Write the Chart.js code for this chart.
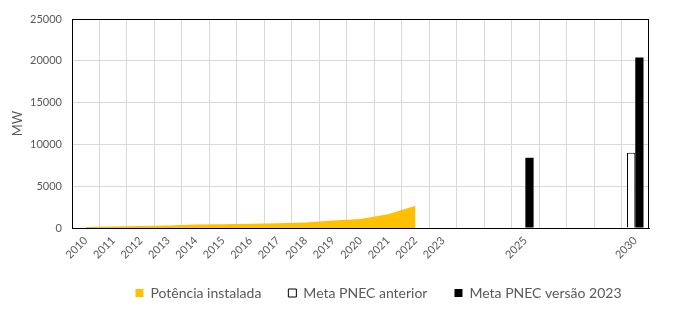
<!DOCTYPE html>
<html>
<head>
<meta charset="utf-8">
<script src="https://cdn.jsdelivr.net/npm/chart.js@4"></script>
<style>
    html, body { margin: 0; padding: 0; background: #fff; }
    #wrap { width: 677px; height: 321px; }
</style>
</head>
<body>
<div id="wrap"><canvas id="chart" width="677" height="321"></canvas></div>
<script>
// --- Data ---
const years = ['2010', '2011', '2012', '2013', '2014', '2015', '2016', '2017', '2018', '2019', '2020', '2021', '2022', '2023', '', '', '2025', '', '', '', '2030'];
const installedMW = [130, 175, 240, 300, 420, 450, 510, 580, 670, 910, 1080, 1650, 2650, null, null, null, null, null, null, null, null];
const targetPrevious = [null, null, null, null, null, null, null, null, null, null, null, null, null, null, null, null, null, null, null, null, 9000];
const target2023 = [null, null, null, null, null, null, null, null, null, null, null, null, null, null, null, null, 8400, null, null, null, 20400];
const yTicks = [0, 5000, 10000, 15000, 20000, 25000];

const grey = '#595959';
const fontFamily = 'Lato, "Noto Sans", sans-serif';

// black frame around the plot area (Excel style)
const plotFrame = {
    id: 'plotFrame',
    afterDraw(chart) {
        const { ctx, chartArea } = chart;
        ctx.save();
        ctx.strokeStyle = '#000';
        ctx.lineWidth = 1;
        ctx.strokeRect(Math.round(chartArea.left) + 0.5, Math.round(chartArea.top) + 0.5,
            Math.round(chartArea.right - chartArea.left) - 1, Math.round(chartArea.bottom - chartArea.top));
        ctx.restore();
    }
};

// move legend to where Excel put it
const legendShift = {
    id: 'legendShift',
    afterLayout(chart) {
        chart.legend.left += 54;
        chart.legend.right += 54;
        chart.legend.top -= 3;
        chart.legend.bottom -= 3;
    }
};

const ctx = document.getElementById('chart').getContext('2d');
new Chart(ctx, {
    type: 'bar',
    data: {
        labels: years,
        datasets: [
            {
                type: 'line',
                label: 'Potência instalada',
                data: installedMW,
                backgroundColor: '#FFC000',
                borderColor: '#FFC000',
                borderWidth: 0,
                pointRadius: 0,
                fill: 'origin',
                tension: 0
            },
            {
                label: 'Meta PNEC anterior',
                data: targetPrevious,
                backgroundColor: '#FFFFFF',
                borderColor: '#000000',
                borderWidth: 1,
                categoryPercentage: 0.6,
                barPercentage: 1.0
            },
            {
                label: 'Meta PNEC versão 2023',
                data: target2023,
                backgroundColor: '#000000',
                borderColor: '#000000',
                borderWidth: 0,
                categoryPercentage: 0.6,
                barPercentage: 1.0
            }
        ]
    },
    options: {
        responsive: false,
        animation: false,
        layout: { padding: { left: 0, right: 28, top: 19, bottom: 8 } },
        scales: {
            x: {
                grid: { color: '#D9D9D9', drawTicks: false, offset: true },
                border: { color: '#000', width: 1 },
                ticks: {
                    autoSkip: false,
                    minRotation: 45,
                    maxRotation: 45,
                    padding: 6,
                    color: grey,
                    font: { family: fontFamily, size: 11 }
                },
                afterFit(scale) { scale.height = 34; }
            },
            y: {
                min: 0,
                max: 25000,
                afterBuildTicks(scale) { scale.ticks = yTicks.map(v => ({ value: v })); },
                grid: { color: '#D9D9D9', drawTicks: false },
                border: { color: '#000', width: 1 },
                ticks: {
                    padding: 10,
                    color: grey,
                    font: { family: fontFamily, size: 11 },
                    callback: v => String(v)
                },
                title: {
                    display: true,
                    text: 'MW',
                    color: grey,
                    padding: { top: 10, bottom: 0 },
                    font: { family: fontFamily, size: 13 }
                },
                afterFit(scale) { scale.width = 72; }
            }
        },
        plugins: {
            legend: {
                position: 'bottom',
                labels: {
                    color: grey,
                    boxWidth: 8,
                    boxHeight: 8,
                    padding: 27,
                    font: { family: fontFamily, size: 14 },
                    sort: (a, b) => a.datasetIndex - b.datasetIndex
                }
            },
            tooltip: { enabled: false }
        }
    },
    plugins: [plotFrame, legendShift]
});
</script>
</body>
</html>
